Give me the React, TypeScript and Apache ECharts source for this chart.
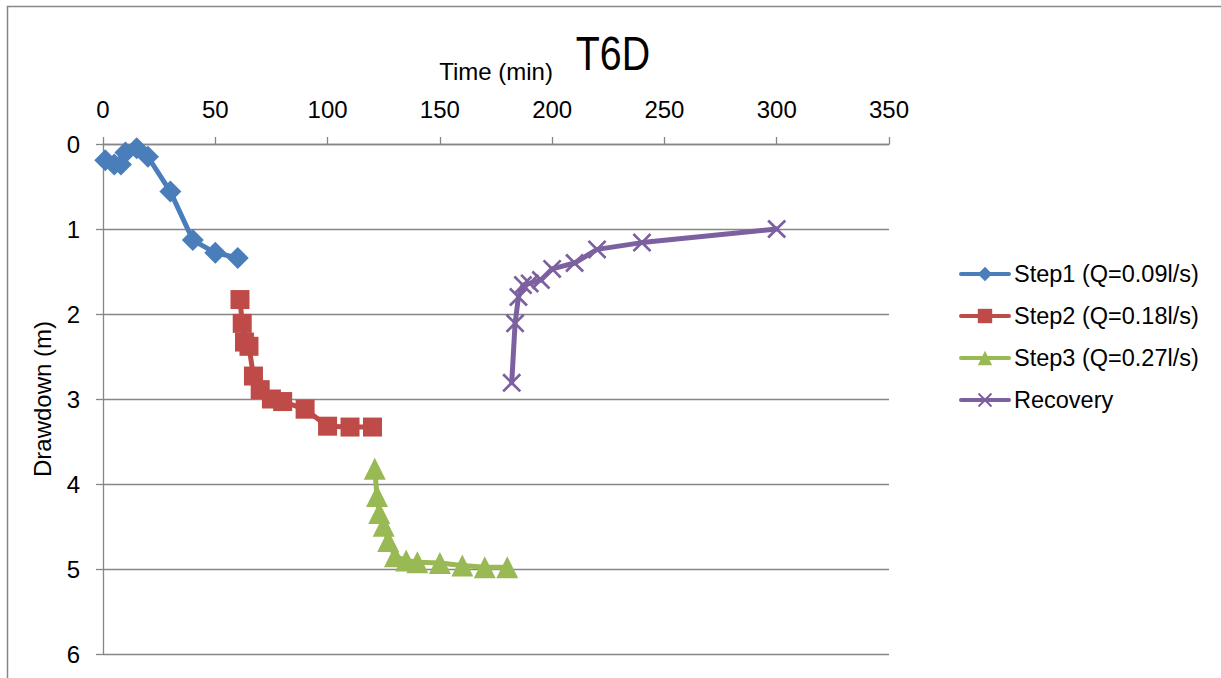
import React, { useEffect, useRef } from "react";
import * as echarts from "echarts";

const titleText = "T6D";
const xAxisName = "Time (min)";
const yAxisName = "Drawdown (m)";

const step1Name = "Step1 (Q=0.09l/s)";
const step1Time = [1, 5, 8, 10, 15, 20, 30, 40, 50, 60];
const step1Draw = [0.19, 0.24, 0.24, 0.1, 0.05, 0.15, 0.56, 1.13, 1.28, 1.34];

const step2Name = "Step2 (Q=0.18l/s)";
const step2Time = [61, 62, 63, 65, 67, 70, 75, 80, 90, 100, 110, 120];
const step2Draw = [1.83, 2.11, 2.33, 2.38, 2.73, 2.89, 3.0, 3.03, 3.12, 3.32, 3.33, 3.33];

const step3Name = "Step3 (Q=0.27l/s)";
const step3Time = [121, 122, 123, 125, 127, 130, 135, 140, 150, 160, 170, 180];
const step3Draw = [3.82, 4.14, 4.34, 4.49, 4.67, 4.85, 4.9, 4.92, 4.93, 4.96, 4.98, 4.98];

const recoveryName = "Recovery";
const recoveryTime = [182, 183.5, 185, 187, 190, 195, 200, 210, 220, 240, 300];
const recoveryDraw = [2.81, 2.11, 1.8, 1.66, 1.64, 1.6, 1.47, 1.4, 1.24, 1.16, 1.0];

const FONT = "'Liberation Sans', Arial, sans-serif";
const GRID_COLOR = "#868686";
const CROSS =
  "path://M0,10L10,0L50,40L90,0L100,10L60,50L100,90L90,100L50,60L10,100L0,90L40,50Z";

function zip(t: number[], v: number[]) {
  return t.map((x, i) => [x, v[i]]);
}

export default function App() {
  const ref = useRef<HTMLDivElement>(null);
  useEffect(() => {
    if (!ref.current) return;
    const chart = echarts.init(ref.current, null, { renderer: "svg" });
    const mk = (name: string, t: number[], v: number[], color: string, symbol: string, size: number) => ({
      name,
      type: "line",
      data: zip(t, v),
      symbol,
      symbolSize: size,
      showAllSymbol: true,
      lineStyle: { width: 5, color, cap: "round", join: "round" },
      itemStyle: { color, borderWidth: 0 },
      emphasis: { disabled: true },
    });
    chart.setOption({
      animation: false,
      backgroundColor: "#ffffff",
      textStyle: { fontFamily: FONT },
      graphic: [
        {
          type: "rect",
          shape: { x: 7.5, y: 6.5, width: 1240, height: 700 },
          style: { fill: "none", stroke: "#878787", lineWidth: 1.5 },
          silent: true,
        },
        {
          type: "text",
          x: 613,
          y: 53,
          scaleX: 0.82,
          style: {
            text: titleText,
            fontSize: 48,
            fontFamily: FONT,
            fill: "#000",
            align: "center",
            verticalAlign: "middle",
          },
          silent: true,
        },
      ],
      legend: {
        orient: "vertical",
        left: 954,
        top: 256,
        itemWidth: 48,
        itemHeight: 18,
        itemGap: 16,
        lineStyle: { width: 4 },
        textStyle: { fontSize: 23.5, color: "#000", fontFamily: FONT, lineHeight: 26 },
        data: [step1Name, step2Name, step3Name, recoveryName],
      },
      grid: { left: 103, right: 332, top: 144, bottom: 24, containLabel: false },
      xAxis: {
        type: "value",
        position: "top",
        min: 0,
        max: 350,
        interval: 50,
        name: xAxisName,
        nameLocation: "middle",
        nameGap: 61,
        nameTextStyle: { fontSize: 24, color: "#000", fontFamily: FONT },
        axisLine: { show: true, onZero: false, lineStyle: { color: GRID_COLOR, width: 1.3 } },
        axisTick: { show: true, length: 7, lineStyle: { color: GRID_COLOR, width: 1.3 } },
        axisLabel: { fontSize: 24, color: "#000", margin: 23, fontFamily: FONT },
        splitLine: { show: false },
      },
      yAxis: {
        type: "value",
        inverse: true,
        min: 0,
        max: 6,
        interval: 1,
        name: yAxisName,
        nameLocation: "middle",
        nameGap: 49,
        nameRotate: 90,
        nameTextStyle: { fontSize: 24, color: "#000", fontFamily: FONT },
        axisLine: { show: true, onZero: false, lineStyle: { color: GRID_COLOR, width: 1.3 } },
        axisTick: { show: true, length: 7, lineStyle: { color: GRID_COLOR, width: 1.3 } },
        axisLabel: { fontSize: 24, color: "#000", margin: 23, fontFamily: FONT },
        splitLine: { show: true, lineStyle: { color: GRID_COLOR, width: 1.3 } },
      },
      series: [
        mk(step1Name, step1Time, step1Draw, "#4A7EBB", "diamond", 22),
        mk(step2Name, step2Time, step2Draw, "#BE4B48", "rect", 19),
        mk(step3Name, step3Time, step3Draw, "#98B954", "triangle", 22),
        mk(recoveryName, recoveryTime, recoveryDraw, "#7D60A0", CROSS, 19),
      ],
    });
    return () => chart.dispose();
  }, []);
  return (
    <div
      ref={ref}
      style={{ position: "absolute", left: 0, top: 0, width: 1221, height: 678, background: "#fff" }}
    />
  );
}
